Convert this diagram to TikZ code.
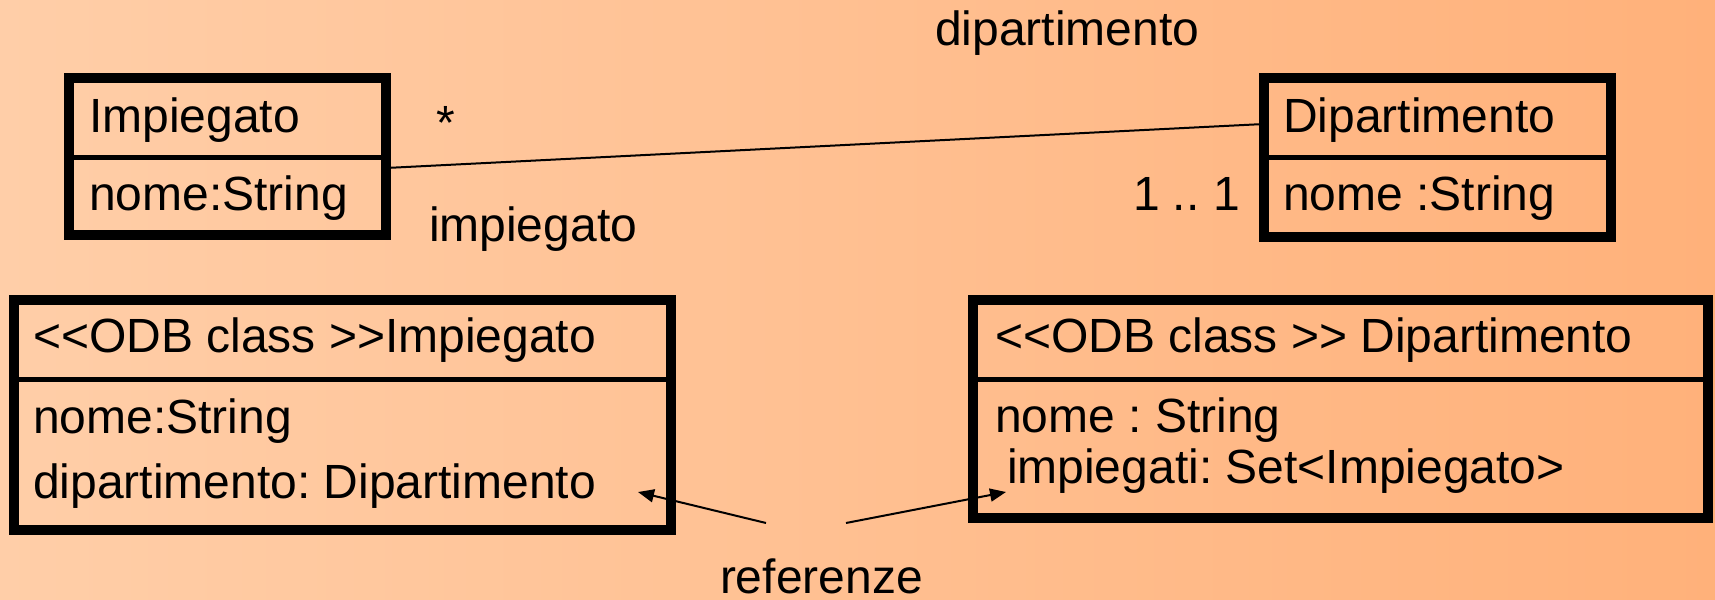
\documentclass[tikz,border=0pt]{standalone}
\usepackage{fontspec}
\setmainfont{Liberation Sans}
\usetikzlibrary{arrows.meta,calc}
\definecolor{bgleft}{RGB}{255,206,168}
\definecolor{bgright}{RGB}{255,177,122}
\newcommand{\lt}{<\kern0pt<}
\newcommand{\gtt}{>\kern0pt>}
\begin{document}
\begin{tikzpicture}[x=0.5pt,y=-0.5pt,
  every node/.style={font=\fontsize{24}{28}\selectfont\frenchspacing},
  txt/.style={inner sep=0pt,outer sep=0pt,anchor=base west},
  umlbox/.style={draw=black,line width=5pt,inner sep=0pt,outer sep=0pt,rectangle},
  divider/.style={line width=2.5pt},
  assoc/.style={line width=1pt},
  refarrow/.style={line width=1pt,-{Triangle[length=8pt,width=6.5pt]}}]
\path[use as bounding box,left color=bgleft,right color=bgright] (0,0) rectangle (1715,600);

% top class boxes
\node[umlbox,minimum width=158.5pt,minimum height=78.5pt] (imp) at (227.5,156.5) {};
\draw[divider] (imp.west |- 0,157) -- (imp.east |- 0,157);
\node[txt] (impname) at (89,132) {Impiegato};
\node[txt] (impattr) at (89,210) {nome:String};

\node[umlbox,minimum width=173.5pt,minimum height=79.5pt] (dip) at (1437.5,157.5) {};
\draw[divider] (dip.west |- 0,157) -- (dip.east |- 0,157);
\node[txt] (dipname) at (1283,132) {Dipartimento};
\node[txt] (dipattr) at (1283,210) {nome :String};

% association
\draw[assoc] ($(imp.east)+(0,11.5)$) -- ($(dip.west)+(0,-33.5)$);
\node[txt] (rolefar) at (935,45) {dipartimento};
\node[txt] (star) at (436,139) {*};
\node[txt] (rolenear) at (429,241) {impiegato};
\node[txt] (mult) at (1133,210) {1 .. 1};

% ODB class boxes
\node[umlbox,minimum width=328.5pt,minimum height=115pt] (odbimp) at (342.5,415) {};
\draw[divider] (odbimp.west |- 0,379) -- (odbimp.east |- 0,379);
\node[txt] (odbimpname) at (33,352) {\lt ODB class \gtt Impiegato};
\node[txt] (odbimpa1) at (33,433) {nome:String};
\node[txt] (odbimpa2) at (33,498) {dipartimento: Dipartimento};

\node[umlbox,minimum width=367.5pt,minimum height=109pt] (odbdip) at (1340.5,409) {};
\draw[divider] (odbdip.west |- 0,379) -- (odbdip.east |- 0,379);
\node[txt] (odbdipname) at (995,352) {\lt ODB class \gtt{} Dipartimento};
\node[txt] (odbdipa1) at (995,432) {nome : String};
\node[txt] (odbdipa2) at (1007,483) {impiegati: Set<Impiegato>};

% references
\node[txt] (ref) at (720,593) {referenze};
\coordinate (r1) at (766,523);
\coordinate (r2) at (846,523);
\coordinate (t1) at (638,492);
\coordinate (t2) at (1006,492);
\draw[refarrow] (r1) -- (t1);
\draw[refarrow] (r2) -- (t2);
\end{tikzpicture}
\end{document}
